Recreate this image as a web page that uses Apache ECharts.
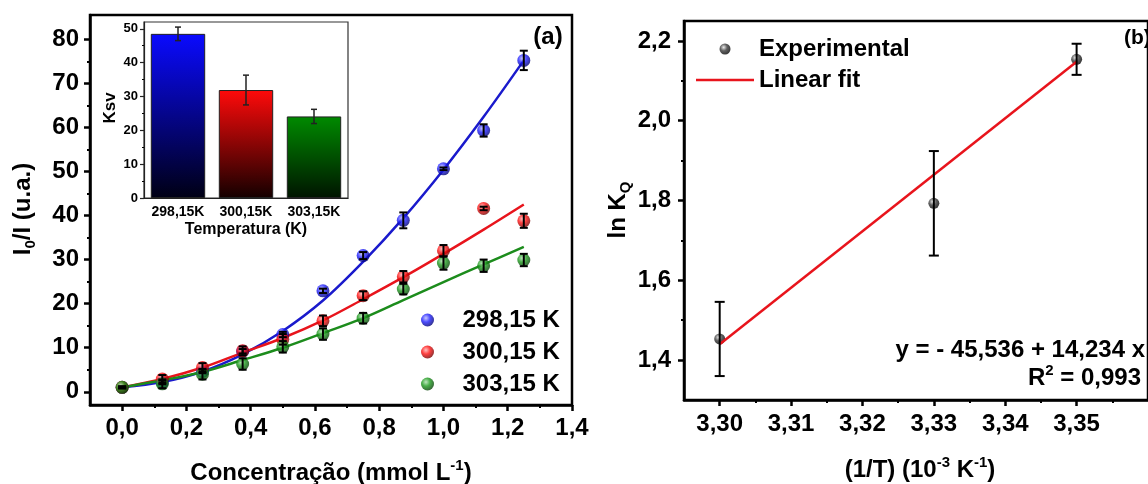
<!DOCTYPE html>
<html><head><meta charset="utf-8">
<script src="https://cdn.jsdelivr.net/npm/echarts@6/dist/echarts.min.js"></script>
<style>html,body{margin:0;padding:0;background:#fff}#c{width:1148px;height:484px}</style>
</head><body><div id="c"></div>
<script>
// ---------- data ----------
const concentration = [0, 0.125, 0.25, 0.375, 0.5, 0.625, 0.75, 0.875, 1.0, 1.125, 1.25];
const ratio298 = [1.0, 2.1, 4.6, 9.2, 13.0, 22.9, 30.9, 38.9, 50.6, 59.3, 75.2];
const ratio300 = [1.0, 2.9, 5.5, 9.3, 11.9, 16.1, 21.8, 26.1, 32.0, 41.6, 38.8];
const ratio303 = [1.0, 1.8, 4.0, 6.3, 10.2, 13.1, 16.7, 23.3, 29.2, 28.6, 29.9];
const err298 = [0.2, 0.4, 0.4, 0.5, 0.6, 0.5, 0.8, 1.8, 0.3, 1.4, 2.2];
const err300 = [0.2, 0.9, 1.0, 1.0, 1.2, 1.2, 1.0, 1.3, 1.3, 0.4, 1.6];
const err303 = [0.2, 1.0, 1.2, 1.3, 1.3, 1.3, 1.2, 1.2, 1.5, 1.4, 1.4];
const fit298 = [1.0, 2.2, 4.6, 8.5, 13.8, 20.7, 29.5, 39.4, 50.4, 62.4, 75.2];
const fit300 = [1.0, 2.9, 5.5, 8.9, 12.2, 16.2, 21.0, 26.0, 31.3, 36.8, 42.5];
const fit303 = [1.0, 2.6, 4.5, 7.2, 10.0, 13.3, 16.7, 20.8, 24.9, 28.9, 32.9];
const seriesNames = ['298,15 K', '300,15 K', '303,15 K'];

const tempLabels = ['298,15K', '300,15K', '303,15K'];
const ksv = [48.5, 31.9, 24.1];
const ksvErr = [2.0, 4.4, 2.1];

const invT = [3.30, 3.33, 3.35];
const lnKq = [1.453, 1.793, 2.154];
const lnKqErr = [0.093, 0.131, 0.039];
const fitInvT = [3.30, 3.35];
const fitLnKq = [1.440, 2.148];

// tick labels
const concTicks = [0, 0.2, 0.4, 0.6, 0.8, 1.0, 1.2, 1.4];
const concMinor = [0.1, 0.3, 0.5, 0.7, 0.9, 1.1, 1.3];
const ratioTicks = [0, 10, 20, 30, 40, 50, 60, 70, 80];
const ratioMinor = [5, 15, 25, 35, 45, 55, 65, 75];
const ksvTicks = [0, 10, 20, 30, 40, 50];
const ksvMinor = [5, 15, 25, 35, 45];
const invTTicks = [3.30, 3.31, 3.32, 3.33, 3.34, 3.35];
const invTMinor = [3.305, 3.315, 3.325, 3.335, 3.345, 3.355];
const lnTicks = [1.4, 1.6, 1.8, 2.0, 2.2];
const lnMinor = [1.5, 1.7, 1.9, 2.1];

// ---------- helpers ----------
const FONT = '"Liberation Sans", Arial, Helvetica, sans-serif';
const fmt1 = v => v.toFixed(1).replace('.', ',');
const fmt2 = v => v.toFixed(2).replace('.', ',');
const zip = (a, b) => a.map((v, i) => [v, b[i]]);
const errData = (xs, ys, es) => xs.map((x, i) => [x, ys[i] - es[i], ys[i] + es[i]]);

function sphere(light, mid, dark) {
  return { type: 'radial', x: 0.38, y: 0.35, r: 0.7,
    colorStops: [{ offset: 0, color: light }, { offset: 0.45, color: mid }, { offset: 1, color: dark }] };
}
function barGrad(top, bottom) {
  return { type: 'linear', x: 0, y: 0, x2: 0, y2: 1,
    colorStops: [{ offset: 0, color: top }, { offset: 1, color: bottom }] };
}
function errorBar(cap, width, color) {
  return function (params, api) {
    const x = api.value(0);
    const lo = api.coord([x, api.value(1)]);
    const hi = api.coord([x, api.value(2)]);
    const st = { stroke: color, lineWidth: width };
    return { type: 'group', children: [
      { type: 'line', shape: { x1: lo[0], y1: lo[1], x2: hi[0], y2: hi[1] }, style: st },
      { type: 'line', shape: { x1: lo[0] - cap, y1: lo[1], x2: lo[0] + cap, y2: lo[1] }, style: st },
      { type: 'line', shape: { x1: hi[0] - cap, y1: hi[1], x2: hi[0] + cap, y2: hi[1] }, style: st }
    ] };
  };
}
function mainAxis(o) {
  return Object.assign({
    type: 'value', splitLine: { show: false },
    axisLine: { show: true, onZero: false, lineStyle: { color: '#000', width: 2.5 } },
    axisTick: { show: true, inside: false, length: 6, lineStyle: { color: '#000', width: 2.5 }, customValues: o.ticks },
    axisLabel: { show: true, customValues: o.ticks, formatter: o.fmt, margin: o.margin, color: '#000',
      fontSize: o.fs || 24, fontWeight: 'bold', fontFamily: FONT }
  }, o.extra);
}
function minorAxis(o) {
  return Object.assign({
    type: 'value', splitLine: { show: false },
    axisLine: { show: false, onZero: false },
    axisTick: { show: true, inside: false, length: o.len || 3, lineStyle: { color: '#000', width: o.w || 2 }, customValues: o.ticks },
    axisLabel: { show: false }
  }, o.extra);
}

const colors = {
  blue: { line: '#1a1acc', sphere: sphere('#b8b8ff', '#1f1fff', '#00006a') },
  red: { line: '#e8141c', sphere: sphere('#ffb0b0', '#ff1010', '#6a0000') },
  green: { line: '#1c8c1c', sphere: sphere('#b0e0b0', '#1c9a1c', '#063c06') }
};
const sets = [
  { name: seriesNames[0], vals: ratio298, err: err298, fit: fit298, c: colors.blue },
  { name: seriesNames[1], vals: ratio300, err: err300, fit: fit300, c: colors.red },
  { name: seriesNames[2], vals: ratio303, err: err303, fit: fit303, c: colors.green }
];

const series = [];
sets.forEach(s => {
  series.push({ name: s.name + ' fit', type: 'line', xAxisIndex: 0, yAxisIndex: 0, smooth: 0.35,
    symbol: 'none', data: zip(concentration, s.fit), itemStyle: { color: s.c.line },
    lineStyle: { color: s.c.line, width: 2.5 }, z: 2, silent: true });
});
sets.forEach(s => {
  series.push({ name: s.name, type: 'scatter', xAxisIndex: 0, yAxisIndex: 0, symbol: 'circle', symbolSize: 13,
    data: zip(concentration, s.vals), itemStyle: { color: s.c.sphere }, z: 3 });
  series.push({ name: s.name + ' err', type: 'custom', xAxisIndex: 0, yAxisIndex: 0, z: 4,
    renderItem: errorBar(4, 2, '#000'), data: errData(concentration, s.vals, s.err), silent: true });
});
// inset bars
const barCols = [barGrad('#0a0aff', '#000014'), barGrad('#ff0a0a', '#140000'), barGrad('#008a00', '#001400')];
series.push({ name: 'Ksv', type: 'bar', xAxisIndex: 2, yAxisIndex: 2, barWidth: '80%', z: 10,
  data: ksv.map((v, i) => ({ value: v, itemStyle: { color: barCols[i], borderColor: '#222', borderWidth: 1 } })) });
series.push({ name: 'Ksv err', type: 'custom', xAxisIndex: 2, yAxisIndex: 2, z: 11, silent: true,
  renderItem: errorBar(3, 1.5, '#222'), data: ksv.map((v, i) => [i, v - ksvErr[i], v + ksvErr[i]]) });
// right chart
series.push({ name: 'Experimental', type: 'scatter', xAxisIndex: 3, yAxisIndex: 4, symbol: 'circle', symbolSize: 11,
  data: zip(invT, lnKq), itemStyle: { color: sphere('#e6e6e6', '#3a3a3a', '#000') }, z: 3 });
series.push({ name: 'Linear fit', type: 'line', xAxisIndex: 3, yAxisIndex: 4, symbol: 'none',
  data: zip(fitInvT, fitLnKq), itemStyle: { color: '#e8141c' }, lineStyle: { color: '#e8141c', width: 2.5 }, z: 4 });
series.push({ name: 'lnK err', type: 'custom', xAxisIndex: 3, yAxisIndex: 4, z: 5, silent: true,
  renderItem: errorBar(5, 2, '#000'), data: errData(invT, lnKq, lnKqErr) });

const bTxt = { fontSize: 24, fontWeight: 'bold', fontFamily: FONT, color: '#000', lineHeight: 30, verticalAlign: 'middle' };
const subTxt = { fontSize: 15, fontWeight: 'bold', fontFamily: FONT, color: '#000', lineHeight: 15, verticalAlign: 'bottom' };
const supTxt = { fontSize: 15, fontWeight: 'bold', fontFamily: FONT, color: '#000', lineHeight: 15, verticalAlign: 'top' };
function txt(x, y, text, opts) {
  return Object.assign({ type: 'text', x: x, y: y, z: 100, silent: true,
    style: Object.assign({ text: text, align: 'center', verticalAlign: 'middle',
      rich: { b: bTxt, s: subTxt, p: supTxt }, fill: '#000',
      fontSize: 24, fontWeight: 'bold', fontFamily: FONT }, (opts && opts.style) || {}) }, (opts && opts.el) || {});
}

const option = {
  animation: false,
  backgroundColor: '#fff',
  grid: [
    { left: 90, top: 15, width: 482, height: 390, show: true, borderColor: '#000', borderWidth: 2.5, backgroundColor: 'transparent' },
    { left: 144, top: 22, width: 204, height: 176, show: true, borderColor: '#333', borderWidth: 1.2, backgroundColor: '#fff', z: 8 },
    { left: 684, top: 21, width: 510, height: 379, show: true, borderColor: '#000', borderWidth: 2.5, backgroundColor: 'transparent' }
  ],
  xAxis: [
    mainAxis({ ticks: concTicks, fmt: fmt1, margin: 11, extra: { gridIndex: 0, min: -0.1, max: 1.4, position: 'bottom' } }),
    minorAxis({ ticks: concMinor, extra: { gridIndex: 0, min: -0.1, max: 1.4, position: 'bottom' } }),
    { type: 'category', gridIndex: 1, data: tempLabels, position: 'bottom', z: 9,
      axisLine: { show: true, lineStyle: { color: '#222', width: 1.2 } }, axisTick: { show: false },
      axisLabel: { interval: 0, hideOverlap: false, margin: 7, color: '#000', fontSize: 14, fontWeight: 'bold', fontFamily: FONT },
      splitLine: { show: false } },
    mainAxis({ ticks: invTTicks, fmt: fmt2, margin: 12, extra: { gridIndex: 2, min: 3.295, max: 3.36, position: 'bottom' } }),
    minorAxis({ ticks: invTMinor, extra: { gridIndex: 2, min: 3.295, max: 3.36, position: 'bottom' } })
  ],
  yAxis: [
    mainAxis({ ticks: ratioTicks, fmt: v => String(Math.round(v)), margin: 11, extra: { gridIndex: 0, min: -3, max: 85.5, position: 'left' } }),
    minorAxis({ ticks: ratioMinor, extra: { gridIndex: 0, min: -3, max: 85.5, position: 'left' } }),
    { type: 'value', gridIndex: 1, min: 0, max: 52, position: 'left', z: 9, splitLine: { show: false },
      axisLine: { show: true, onZero: false, lineStyle: { color: '#222', width: 1.2 } },
      axisTick: { show: true, length: 4, lineStyle: { color: '#222', width: 1.2 }, customValues: ksvTicks },
      axisLabel: { customValues: ksvTicks, margin: 6, color: '#000', fontSize: 13, fontWeight: 'bold', fontFamily: FONT } },
    minorAxis({ ticks: ksvMinor, len: 2, w: 1.2, extra: { gridIndex: 1, min: 0, max: 52, position: 'left', z: 9 } }),
    mainAxis({ ticks: lnTicks, fmt: fmt1, margin: 13, extra: { gridIndex: 2, min: 1.3, max: 2.25, position: 'left' } }),
    minorAxis({ ticks: lnMinor, extra: { gridIndex: 2, min: 1.3, max: 2.25, position: 'left' } })
  ],
  legend: [
    { data: seriesNames, orient: 'vertical', left: 416, top: 303, itemWidth: 60, itemHeight: 13, itemGap: 8,
      selectedMode: false, icon: 'circle',
      textStyle: { fontSize: 24, fontWeight: 'bold', fontFamily: FONT, color: '#000' } },
    { data: [{ name: 'Experimental', icon: 'circle' },
             { name: 'Linear fit', icon: 'path://M0,0 L58,0 L58,2.5 L0,2.5 Z' }],
      orient: 'vertical', left: 691, top: 32, itemWidth: 58, itemHeight: 11, itemGap: 7,
      selectedMode: false,
      textStyle: { fontSize: 24, fontWeight: 'bold', fontFamily: FONT, color: '#000' } }
  ],
  graphic: [
    txt(548, 37, '(a)'),
    txt(1124, 38, '(b)', { style: { align: 'left', fontSize: 21 } }),
    txt(23, 209, '{b|I}{s|0}{b|/I (u.a.)}', { el: { rotation: Math.PI / 2 } }),
    txt(331, 473, '{b|Concentração (mmol L}{p|-1}{b|)}'),
    txt(110, 108, 'Ksv', { el: { rotation: Math.PI / 2 }, style: { fontSize: 17 } }),
    txt(246, 230, 'Temperatura (K)', { style: { fontSize: 16 } }),
    txt(618, 210, '{b|ln K}{s|Q}', { el: { rotation: Math.PI / 2 } }),
    txt(920, 470, '{b|(1/T) (10}{p|-3}{b| K}{p|-1}{b|)}'),
    txt(1145, 350, 'y = - 45,536 + 14,234 x', { style: { align: 'right' } }),
    txt(1141, 378, '{b|R}{p|2}{b| = 0,993}', { style: { align: 'right' } })
  ],
  series: series
};

const chart = echarts.init(document.getElementById('c'), null, { renderer: 'canvas' });
chart.setOption(option);
</script>
</body></html>
